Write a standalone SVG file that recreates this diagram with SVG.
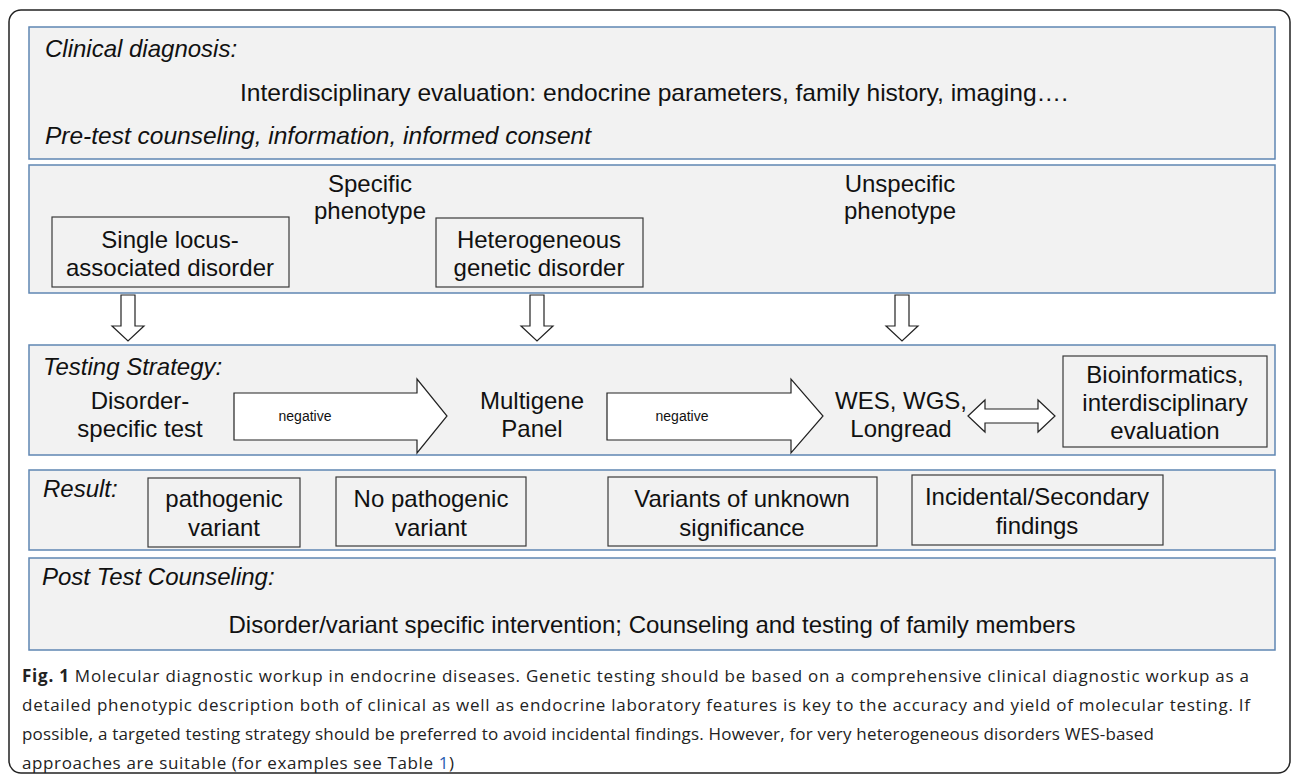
<svg xmlns="http://www.w3.org/2000/svg" width="1292" height="774" viewBox="0 0 1292 774">
<style>
.panel{fill:#f2f2f2;stroke:#5f86b3;stroke-width:1.5}
.box{fill:#f2f2f2;stroke:#3a3a3a;stroke-width:1.2}
.arr{fill:#fff;stroke:#222;stroke-width:1.2}
text{font-family:"Liberation Sans",Arial,Helvetica,sans-serif;fill:#111}
.t{font-size:24px}
.c{text-anchor:middle}
.i{font-style:italic}
.s{font-size:14px}
.cap{font-family:"Open Sans","Noto Sans",sans-serif;font-size:17px;fill:#222}
</style>
<rect x="9" y="10" width="1281" height="763" rx="12" fill="#fff" stroke="#222" stroke-width="1.5"/>

<g id="panel-clinical">
<rect class="panel" x="29" y="27" width="1246" height="132"/>
<text class="t i" x="45" y="57">Clinical diagnosis:</text>
<text class="t" x="240" y="101" textLength="828" lengthAdjust="spacingAndGlyphs">Interdisciplinary evaluation: endocrine parameters, family history, imaging….</text>
<text class="t i" x="45" y="144" textLength="546" lengthAdjust="spacingAndGlyphs">Pre-test counseling, information, informed consent</text>
</g>

<g id="panel-phenotype">
<rect class="panel" x="29" y="165" width="1246" height="128"/>
<text class="t c" x="370" y="192">Specific</text>
<text class="t c" x="370" y="219">phenotype</text>
<text class="t c" x="900" y="192">Unspecific</text>
<text class="t c" x="900" y="219">phenotype</text>
</g>
<g id="node-single">
<rect class="box" x="52" y="217" width="237" height="70"/>
<text class="t c" x="170" y="248">Single locus-</text>
<text class="t c" x="170" y="276">associated disorder</text>
</g>
<g id="node-hetero">
<rect class="box" x="436" y="218" width="207" height="69"/>
<text class="t c" x="539" y="248">Heterogeneous</text>
<text class="t c" x="539" y="276">genetic disorder</text>
</g>

<g id="panel-testing">
<rect class="panel" x="29" y="345" width="1246" height="110"/>
<text class="t i" x="43" y="375">Testing Strategy:</text>
</g>
<g id="node-disorder-test">
<text class="t c" x="140" y="409">Disorder-</text>
<text class="t c" x="140" y="437">specific test</text>
</g>
<g id="node-multigene">
<text class="t c" x="532" y="409">Multigene</text>
<text class="t c" x="532" y="437">Panel</text>
</g>
<g id="node-wes">
<text class="t c" x="901" y="409">WES, WGS,</text>
<text class="t c" x="901" y="437">Longread</text>
</g>
<g id="node-bioinf">
<rect class="box" x="1063" y="356" width="204" height="91"/>
<text class="t c" x="1165" y="383" font-size="25">Bioinformatics,</text>
<text class="t c" x="1165" y="411" font-size="25">interdisciplinary</text>
<text class="t c" x="1165" y="439" font-size="25">evaluation</text>
</g>

<g id="panel-result">
<rect class="panel" x="29" y="470" width="1246" height="80"/>
<text class="t i" x="43" y="497">Result:</text>
</g>
<g id="node-pathogenic">
<rect class="box" x="148" y="478" width="152" height="69"/>
<text class="t c" x="224" y="507">pathogenic</text>
<text class="t c" x="224" y="536">variant</text>
</g>
<g id="node-nopathogenic">
<rect class="box" x="336" y="477" width="190" height="69"/>
<text class="t c" x="431" y="507">No pathogenic</text>
<text class="t c" x="431" y="536">variant</text>
</g>
<g id="node-vus">
<rect class="box" x="608" y="477" width="269" height="69"/>
<text class="t c" x="742" y="507">Variants of unknown</text>
<text class="t c" x="742" y="536">significance</text>
</g>
<g id="node-incidental">
<rect class="box" x="912" y="475" width="251" height="70"/>
<text class="t c" x="1037" y="505">Incidental/Secondary</text>
<text class="t c" x="1037" y="534">findings</text>
</g>

<g id="panel-post">
<rect class="panel" x="29" y="558" width="1246" height="92"/>
<text class="t i" x="42" y="585">Post Test Counseling:</text>
<text class="t c" x="652" y="633">Disorder/variant specific intervention; Counseling and testing of family members</text>
</g>

<g id="connectors">
<polygon class="arr" points="121,295 135,295 135,326 144,326 128,341 112,326 121,326"/>
<polygon class="arr" points="530,295 544,295 544,326 553,326 537,341 521,326 530,326"/>
<polygon class="arr" points="895,295 909,295 909,326 918,326 902,341 886,326 895,326"/>
<polygon class="arr" points="234,393 417,393 417,379 447,416 417,453 417,440 234,440"/>
<text class="s c" x="305" y="421">negative</text>
<polygon class="arr" points="607,393 791,393 791,379 823,416 791,453 791,440 607,440"/>
<text class="s c" x="682" y="421">negative</text>
<polygon class="arr" points="968,416 985,400 985,409 1038,409 1038,400 1055,416 1038,432 1038,423 985,423 985,432"/>
</g>

<g id="caption">
<text class="cap" x="22" y="682" textLength="1227" lengthAdjust="spacing"><tspan font-weight="bold">Fig. 1</tspan> Molecular diagnostic workup in endocrine diseases. Genetic testing should be based on a comprehensive clinical diagnostic workup as a</text>
<text class="cap" x="22" y="711" textLength="1228" lengthAdjust="spacing">detailed phenotypic description both of clinical as well as endocrine laboratory features is key to the accuracy and yield of molecular testing. If</text>
<text class="cap" x="22" y="740" textLength="1132" lengthAdjust="spacing">possible, a targeted testing strategy should be preferred to avoid incidental findings. However, for very heterogeneous disorders WES-based</text>
<text class="cap" x="22" y="769" textLength="432" lengthAdjust="spacing">approaches are suitable (for examples see Table <tspan fill="#2a5db0">1</tspan>)</text>
</g>
</svg>
